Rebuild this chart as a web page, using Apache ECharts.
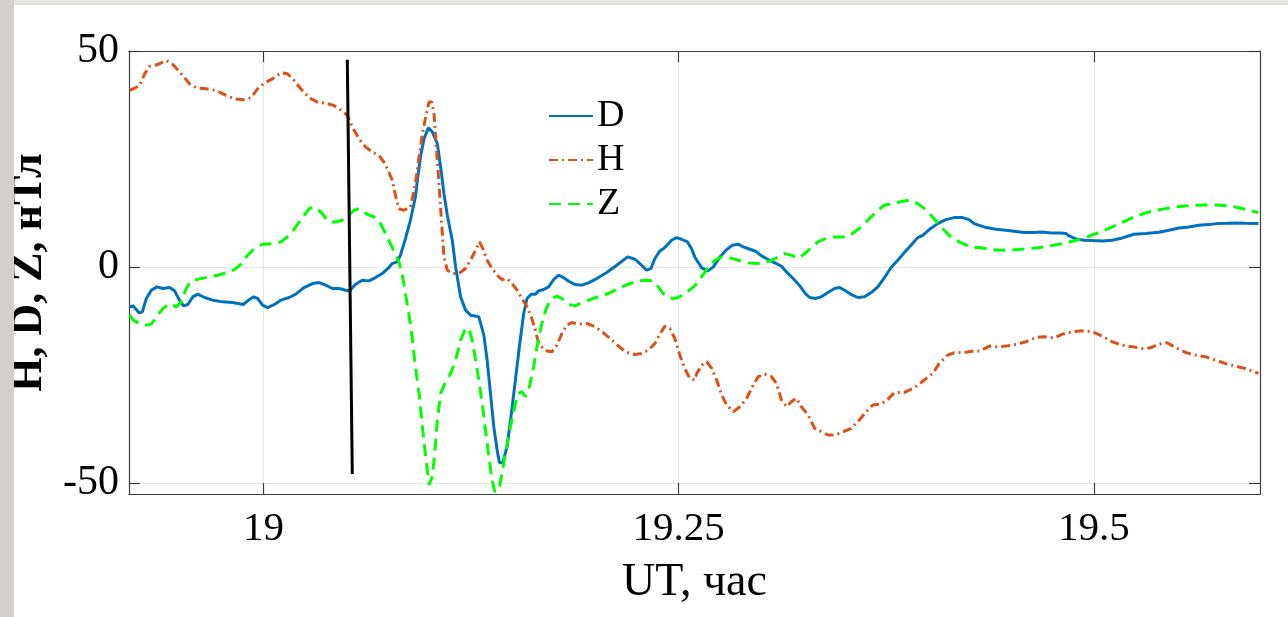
<!DOCTYPE html>
<html>
<head>
<meta charset="utf-8">
<script src="https://cdn.jsdelivr.net/npm/echarts@6/dist/echarts.min.js"></script>
<style>
html,body{margin:0;padding:0;background:#fff;}
#chart{width:1288px;height:617px;}
</style>
</head>
<body>
<div id="chart"></div>
<script>
// ---- data (UT hours, nT) ----
const xTicks = [19, 19.25, 19.5];
const yTicks = [-50, 0, 50];
const seriesNames = ['D', 'H', 'Z'];

const dTime = [18.9195,18.9215,18.9251,18.9271,18.9295,18.9325,18.9359,18.9395,18.9435,18.9465,18.9495,18.9519,18.9545,18.9575,18.9605,18.9645,18.9695,18.9755,18.9815,18.9879,18.9905,18.9939,18.9965,18.9995,19.0025,19.0065,19.0105,19.0155,19.0195,19.0245,19.0295,19.0335,19.0375,19.0415,19.0455,19.0495,19.0519,19.0555,19.0595,19.0635,19.0675,19.0715,19.0755,19.0775,19.0805,19.0825,19.0855,19.0885,19.0915,
19.0927,19.0947,19.0967,19.0993,19.1017,19.1047,19.1067,19.1087,19.1107,19.1137,19.1157,19.1187,19.1217,19.1247,19.1297,19.1327,19.1347,19.1367,19.1387,19.1407,19.1421,19.1441,19.1467,19.1493,19.1517,19.1541,19.1567,19.1587,19.1613,19.1637,19.1657,19.1687,19.1717,19.1747,19.1777,19.1807,19.1837,19.1877,19.1917,19.1957,19.2007,19.2067,19.2127,19.2193,19.2237,19.2277,19.2307,19.2333,19.2357,19.2387,19.2417,19.2457,19.2487,19.2517,19.2553,19.2577,19.2597,
19.2609,19.2639,19.2675,19.2709,19.2749,19.2789,19.2823,19.2859,19.2889,19.2929,19.2963,19.2999,19.3039,19.3079,19.3119,19.3149,19.3189,19.3229,19.3263,19.3289,19.3323,19.3359,19.3399,19.3439,19.3469,19.3499,19.3539,19.3579,19.3619,19.3659,19.3699,19.3739,19.3779,19.3819,19.3859,19.3899,19.3939,19.3969,19.4009,19.4059,19.4109,19.4159,19.4209,19.4249,19.4279,
19.4291,19.4351,19.4411,19.4471,19.4531,19.4581,19.4641,19.4691,19.4741,19.4801,19.4831,19.4851,19.4891,19.4941,19.4991,19.5051,19.5111,19.5171,19.5241,19.5311,19.5391,19.5451,19.5511,19.5571,19.5631,19.5691,19.5741,19.5801,19.5851,19.5911,19.5991];
const dValues = [-9.25,-9.02,-10.64,-10.41,-7.32,-5.40,-4.63,-5.01,-4.78,-5.55,-7.71,-9.02,-8.71,-6.94,-6.32,-7.09,-7.71,-8.10,-8.25,-8.71,-7.86,-6.94,-7.32,-8.87,-9.41,-8.71,-7.71,-7.09,-6.32,-4.78,-3.86,-3.62,-4.24,-5.01,-5.01,-5.40,-5.55,-4.01,-3.08,-3.24,-2.47,-1.54,-0.15,0.77,1.16,2.70,6.55,10.79,16.19,
20.05,25.83,29.68,32.23,31.23,28.53,23.13,16.96,11.95,6.17,0,-6.94,-10.02,-11.18,-11.57,-15.81,-21.59,-29.30,-37.01,-42.41,-45.34,-45.34,-41.63,-33.92,-26.21,-18.50,-10.79,-7.32,-6.32,-6.32,-5.55,-5.24,-4.63,-2.93,-1.93,-2.47,-3.32,-4.09,-4.24,-3.70,-2.70,-1.31,0.39,2.31,1.77,0.39,-0.77,-0.39,1.93,3.70,4.47,6.17,6.78,6.40,5.78,4.24,2.31,
1.54,-0.23,-0.93,0,2.31,4.01,5.01,5.24,4.63,4.09,3.62,2.54,1.70,0.93,0.15,-1.16,-2.70,-4.39,-6.17,-7.09,-7.32,-6.94,-5.94,-5.01,-4.78,-5.40,-6.40,-7.09,-6.94,-5.94,-4.63,-2.47,-0.15,1.54,3.32,5.01,6.78,7.32,8.64,10.02,10.95,11.41,11.41,10.95,10.02,
9.79,9.10,8.71,8.48,8.17,7.94,7.94,8.10,7.86,7.86,7.71,7.17,6.48,6.17,6.09,6.01,6.17,6.71,7.56,7.71,8.02,8.48,9.02,9.25,9.64,9.79,10.02,10.10,10.18,10.10,10.02];

const hTime = [18.9195,18.9225,18.9255,18.9285,18.9315,18.9365,18.9415,18.9455,18.9505,18.9555,18.9595,18.9655,18.9715,18.9775,18.9825,18.9875,18.9925,18.9965,19.0005,19.0055,19.0105,19.0145,19.0185,19.0225,19.0275,19.0325,19.0375,19.0425,19.0475,19.0505,19.0535,19.0575,19.0615,19.0655,19.0695,19.0725,19.0755,19.0775,19.0795,19.0815,19.0845,19.0885,19.0915,
19.0937,19.0957,19.0977,19.0997,19.1013,19.1027,19.1041,19.1057,19.1073,19.1087,19.1107,19.1137,19.1177,19.1217,19.1247,19.1277,19.1301,19.1321,19.1347,19.1377,19.1407,19.1437,19.1467,19.1497,19.1527,19.1557,19.1587,19.1613,19.1637,19.1657,19.1697,19.1737,19.1767,19.1797,19.1827,19.1857,19.1897,19.1947,19.1997,19.2047,19.2097,19.2147,19.2187,19.2237,19.2277,19.2317,19.2357,19.2387,19.2417,19.2447,19.2477,19.2507,19.2537,19.2567,19.2597,
19.2609,19.2639,19.2669,19.2699,19.2729,19.2759,19.2789,19.2829,19.2869,19.2909,19.2949,19.2979,19.3019,19.3059,19.3089,19.3119,19.3149,19.3179,19.3209,19.3239,19.3279,19.3319,19.3359,19.3399,19.3439,19.3479,19.3539,19.3579,19.3629,19.3669,19.3719,19.3759,19.3799,19.3859,19.3919,19.3979,19.4029,19.4069,19.4119,19.4159,19.4219,19.4279,
19.4311,19.4371,19.4411,19.4471,19.4531,19.4591,19.4651,19.4701,19.4761,19.4811,19.4871,19.4931,19.4991,19.5051,19.5111,19.5171,19.5231,19.5291,19.5341,19.5391,19.5441,19.5491,19.5551,19.5611,19.5671,19.5731,19.5791,19.5851,19.5911,19.5991];
const hValues = [40.86,41.40,42.02,44.72,46.42,46.88,47.80,46.88,44.72,42.41,41.48,41.25,40.86,39.71,38.94,38.70,39.17,41.25,42.56,43.56,44.95,44.72,43.18,41.25,39.17,38.16,37.93,37.39,36.08,35.08,32.38,29.68,27.76,26.60,25.83,24.29,21.97,20.05,16.58,13.49,13.11,13.88,19.28,
25.44,30.84,34.70,38.16,38.16,35.47,27.76,19.28,10.02,2.31,-0.77,-1.54,-1.54,-0.39,1.54,3.86,5.78,4.24,1.54,-0.39,-1.93,-2.93,-2.70,-3.86,-5.40,-7.32,-9.25,-11.57,-14.65,-17.73,-19.43,-19.66,-18.12,-15.42,-13.49,-12.88,-13.26,-13.11,-13.88,-15.27,-16.96,-18.66,-19.82,-20.28,-20.05,-19.28,-17.73,-15.57,-13.72,-14.26,-16.58,-20.43,-23.52,-25.83,-26.21,
-24.67,-22.74,-21.97,-23.52,-26.21,-29.68,-32.00,-33.54,-32.38,-30.45,-27.37,-25.44,-24.83,-25.44,-26.99,-30.84,-32.38,-31.23,-30.45,-32.38,-34.31,-37.39,-38.16,-38.94,-38.94,-38.40,-37.39,-35.85,-33.54,-32.00,-31.77,-30.69,-29.14,-29.07,-27.99,-26.21,-24.67,-22.36,-20.43,-19.89,-19.82,-19.43,
-19.51,-18.35,-18.50,-18.35,-17.96,-17.35,-16.35,-16.19,-16.42,-15.57,-15.03,-14.80,-15.03,-16.04,-17.35,-18.12,-18.50,-18.89,-18.74,-17.89,-17.58,-18.66,-19.82,-20.43,-20.82,-21.59,-22.36,-22.98,-23.52,-24.67];

const zTime = [18.9195,18.9215,18.9255,18.9295,18.9325,18.9355,18.9395,18.9435,18.9475,18.9505,18.9535,18.9565,18.9615,18.9675,18.9725,18.9775,18.9825,18.9865,18.9905,18.9945,18.9995,19.0055,19.0105,19.0155,19.0195,19.0235,19.0275,19.0305,19.0345,19.0395,19.0435,19.0485,19.0515,19.0545,19.0575,19.0625,19.0665,19.0695,19.0725,19.0755,19.0785,19.0815,19.0835,19.0855,19.0875,19.0895,19.0915,
19.0937,19.0957,19.0977,19.0997,19.1017,19.1033,19.1047,19.1067,19.1093,19.1127,19.1157,19.1187,19.1217,19.1237,19.1257,19.1277,19.1297,19.1317,19.1337,19.1357,19.1377,19.1393,19.1417,19.1437,19.1457,19.1487,19.1513,19.1533,19.1557,19.1577,19.1601,19.1627,19.1647,19.1667,19.1687,19.1707,19.1737,19.1767,19.1797,19.1837,19.1877,19.1917,19.1967,19.2017,19.2077,19.2137,19.2197,19.2257,19.2307,19.2347,19.2377,19.2407,19.2437,19.2467,19.2497,19.2537,19.2577,19.2597,
19.2629,19.2659,19.2689,19.2719,19.2759,19.2799,19.2839,19.2879,19.2919,19.2969,19.3019,19.3059,19.3099,19.3139,19.3179,19.3219,19.3259,19.3299,19.3339,19.3379,19.3419,19.3459,19.3499,19.3539,19.3579,19.3619,19.3659,19.3699,19.3739,19.3799,19.3859,19.3899,19.3939,19.3979,19.4019,19.4059,19.4099,19.4139,19.4179,19.4219,19.4279,
19.4311,19.4371,19.4431,19.4491,19.4551,19.4611,19.4671,19.4731,19.4791,19.4851,19.4911,19.4961,19.5011,19.5071,19.5131,19.5191,19.5251,19.5311,19.5371,19.5431,19.5491,19.5551,19.5611,19.5671,19.5731,19.5791,19.5851,19.5911,19.5991];
const zValues = [-11.18,-12.34,-13.11,-13.49,-13.26,-11.57,-9.64,-8.48,-9.25,-8.10,-5.01,-3.24,-2.78,-2.31,-1.93,-1.39,-0.62,0.62,2.70,4.24,5.24,5.40,5.78,7.32,9.25,11.41,13.49,13.88,12.72,10.41,10.41,10.95,11.95,13.11,13.49,12.18,11.57,10.79,8.48,6.17,3.70,1.16,-1.54,-6.17,-10.79,-16.19,-23.13,
-29.30,-37.01,-43.95,-50.50,-48.57,-42.41,-35.47,-29.30,-26.99,-24.67,-21.59,-16.96,-14.26,-14.26,-16.96,-21.59,-26.21,-31.61,-37.78,-43.95,-49.34,-52.04,-51.66,-47.80,-43.18,-37.01,-32.38,-29.30,-28.91,-30.07,-27.76,-23.13,-18.50,-14.65,-11.57,-9.25,-7.32,-6.78,-7.32,-8.71,-9.02,-8.33,-7.56,-6.94,-6.17,-5.01,-4.01,-3.24,-3.08,-3.32,-4.63,-6.17,-7.09,-7.32,-7.09,-6.17,-5.01,-4.39,
-2.70,-1.16,0.39,1.54,2.31,2.16,1.77,1.31,0.93,0.77,0.93,1.54,2.31,3.08,2.70,1.93,3.08,4.47,5.78,6.48,6.94,6.94,6.94,7.56,8.64,10.02,11.57,13.11,14.26,14.80,15.27,15.42,14.65,13.49,11.95,10.18,8.48,6.94,6.01,5.24,4.47,
4.47,4.09,3.86,3.86,4.01,4.24,4.47,4.86,5.24,5.78,6.32,6.94,7.71,8.64,9.64,10.64,11.72,12.49,13.11,13.49,13.88,14.11,14.26,14.34,14.34,14.19,13.88,13.34,12.57];

// marker line (event time)
const markerTime = [19.0505, 19.0535];
const markerValues = [47.96, -47.96];

const zip = (a, b) => a.map((v, i) => [v, b[i]]);

const FONT = '"Liberation Serif", "Times New Roman", serif';
const chart = echarts.init(document.getElementById('chart'), null, {renderer: 'canvas'});

const axisLineStyle = {color: '#3c3c3c', width: 1.2};
const tickStyle = {color: '#3c3c3c', width: 1.2};

chart.setOption({
  backgroundColor: '#ffffff',
  animation: false,
  graphic: [
    {type: 'rect', shape: {x: 0, y: 0, width: 14, height: 617}, style: {fill: '#d3d0cb'}, z: 100},
    {type: 'rect', shape: {x: 14, y: 0, width: 1274, height: 5}, style: {fill: '#e8e6e2'}, z: 100}
  ],
  grid: {left: 128, right: 28, top: 51, bottom: 123, containLabel: false},
  legend: {
    data: seriesNames,
    orient: 'vertical',
    left: 548,
    top: 96,
    padding: 0,
    itemWidth: 44,
    itemHeight: 2,
    itemGap: 4,
    itemStyle: {opacity: 0, borderWidth: 0},
    textStyle: {fontFamily: FONT, fontSize: 38, color: '#000', lineHeight: 40, padding: [0,0,0,-1]}
  },
  xAxis: [{
    type: 'value', min: 18.919, max: 19.6, position: 'bottom',
    name: 'UT, час', nameLocation: 'middle', nameGap: 66,
    nameTextStyle: {fontFamily: FONT, fontSize: 46, color: '#000'},
    axisLine: {show: true, onZero: false, lineStyle: axisLineStyle},
    axisTick: {show: true, inside: true, length: 11, customValues: xTicks, lineStyle: tickStyle},
    axisLabel: {customValues: xTicks, fontFamily: FONT, fontSize: 41, color: '#000', margin: 15,
                formatter: v => String(v)},
    splitLine: {show: true, lineStyle: {color: '#e5e5e5', width: 1}}
  }, {
    type: 'value', min: 18.919, max: 19.6, position: 'top',
    axisLine: {show: true, onZero: false, lineStyle: axisLineStyle},
    axisTick: {show: true, inside: true, length: 11, customValues: xTicks, lineStyle: tickStyle},
    axisLabel: {show: false, customValues: xTicks},
    splitLine: {show: false}
  }],
  yAxis: [{
    type: 'value', min: -52.6, max: 50, position: 'left',
    name: 'H, D, Z, нТл', nameLocation: 'middle', nameGap: 70, nameRotate: 90,
    nameTextStyle: {fontFamily: FONT, fontSize: 44, fontWeight: 'bold', color: '#000'},
    axisLine: {show: true, onZero: false, lineStyle: axisLineStyle},
    axisTick: {show: true, inside: true, length: 11, customValues: yTicks, lineStyle: tickStyle},
    axisLabel: {customValues: yTicks, fontFamily: FONT, fontSize: 42, color: '#000', margin: 10,
                formatter: v => String(v)},
    splitLine: {show: true, lineStyle: {color: '#e5e5e5', width: 1}}
  }, {
    type: 'value', min: -52.6, max: 50, position: 'right',
    axisLine: {show: true, onZero: false, lineStyle: axisLineStyle},
    axisTick: {show: true, inside: true, length: 11, customValues: yTicks, lineStyle: tickStyle},
    axisLabel: {show: false, customValues: yTicks},
    splitLine: {show: false}
  }],
  series: [
    {name: 'D', type: 'line', data: zip(dTime, dValues), showSymbol: false, symbol: 'none', smooth: false,
     color: '#0072BD', lineStyle: {color: '#0072BD', width: 3, type: 'solid'}},
    {name: 'H', type: 'line', data: zip(hTime, hValues), showSymbol: false, symbol: 'none', smooth: false,
     color: '#D95319', lineStyle: {color: '#D95319', width: 3, type: [9, 4, 2, 4]}},
    {name: 'Z', type: 'line', data: zip(zTime, zValues), showSymbol: false, symbol: 'none', smooth: false,
     color: '#00FF00', lineStyle: {color: '#00FF00', width: 3, type: [12, 7]}},
    {name: 'marker', type: 'line', data: zip(markerTime, markerValues), showSymbol: false, symbol: 'none',
     color: '#000', lineStyle: {color: '#000', width: 3}, z: 5}
  ]
});
</script>
</body>
</html>
